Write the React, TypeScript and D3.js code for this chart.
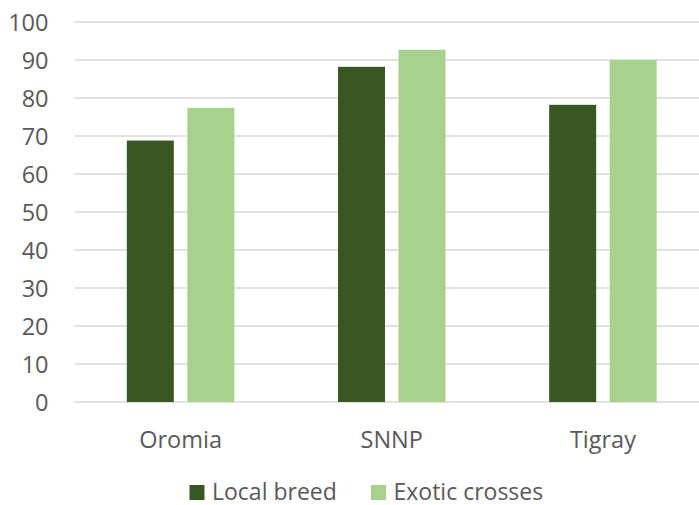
import React from "react";
import * as d3 from "d3";

const categories = ["Oromia", "SNNP", "Tigray"];
const seriesNames = ["Local breed", "Exotic crosses"];
const localBreed = [68.8, 88.2, 78.2];
const exoticCrosses = [77.4, 92.7, 90.0];
const yTicks = [0, 10, 20, 30, 40, 50, 60, 70, 80, 90, 100];
const seriesColors = ["#385723", "#A9D18E"];

const W = 699;
const H = 505;
const FONT = "'Open Sans', 'Noto Sans', sans-serif";
const TEXT = "#595959";

export default function App() {
  const left = 75;
  const right = 708.5;
  const top = 22;
  const bottom = 402;

  const x = d3.scaleBand<string>().domain(categories).range([left, right]).padding(0);
  const y = d3.scaleLinear().domain([0, 100]).range([bottom, top]);

  const band = x.bandwidth();
  const barW = band * 0.2225;
  const gap = band * 0.064;
  const groupW = barW * 2 + gap;
  const offset = (band - groupW) / 2;

  const series = [localBreed, exoticCrosses];

  return (
    <div style={{ position: "absolute", left: 0, top: 0 }}>
      <svg width={W} height={H} style={{ display: "block", background: "#fff" }}>
        {/* horizontal gridlines */}
        {yTicks.map((t) => (
          <line
            key={"g" + t}
            x1={left}
            x2={right}
            y1={y(t)}
            y2={y(t)}
            stroke="#D9D9D9"
            strokeWidth={1.3}
          />
        ))}
        {/* y tick labels */}
        {yTicks.map((t) => (
          <text
            key={"t" + t}
            x={48.5}
            y={y(t)}
            textAnchor="end"
            dominantBaseline="central"
            fontFamily={FONT}
            fontSize={23.5}
            fill={TEXT}
          >
            {t}
          </text>
        ))}
        {/* bars */}
        {series.map((vals, si) =>
          categories.map((c, ci) => {
            const bx = (x(c) as number) + offset + si * (barW + gap);
            return (
              <rect
                key={`b${si}-${ci}`}
                x={bx}
                y={y(vals[ci])}
                width={barW}
                height={y(0) - y(vals[ci])}
                fill={seriesColors[si]}
              />
            );
          })
        )}
        {/* category labels */}
        {categories.map((c) => (
          <text
            key={"c" + c}
            x={(x(c) as number) + band / 2}
            y={439}
            textAnchor="middle"
            dominantBaseline="central"
            fontFamily={FONT}
            fontSize={23.5}
            fill={TEXT}
          >
            {c}
          </text>
        ))}
        {/* legend */}
        {seriesNames.map((n, i) => {
          const lx = i === 0 ? 189.5 : 371;
          return (
            <g key={"l" + n}>
              <rect x={lx} y={485} width={15} height={15} fill={seriesColors[i]} />
              <text
                x={lx + 22.5}
                y={490.5}
                dominantBaseline="central"
                fontFamily={FONT}
                fontSize={23}
                fill={TEXT}
              >
                {n}
              </text>
            </g>
          );
        })}
      </svg>
    </div>
  );
}
